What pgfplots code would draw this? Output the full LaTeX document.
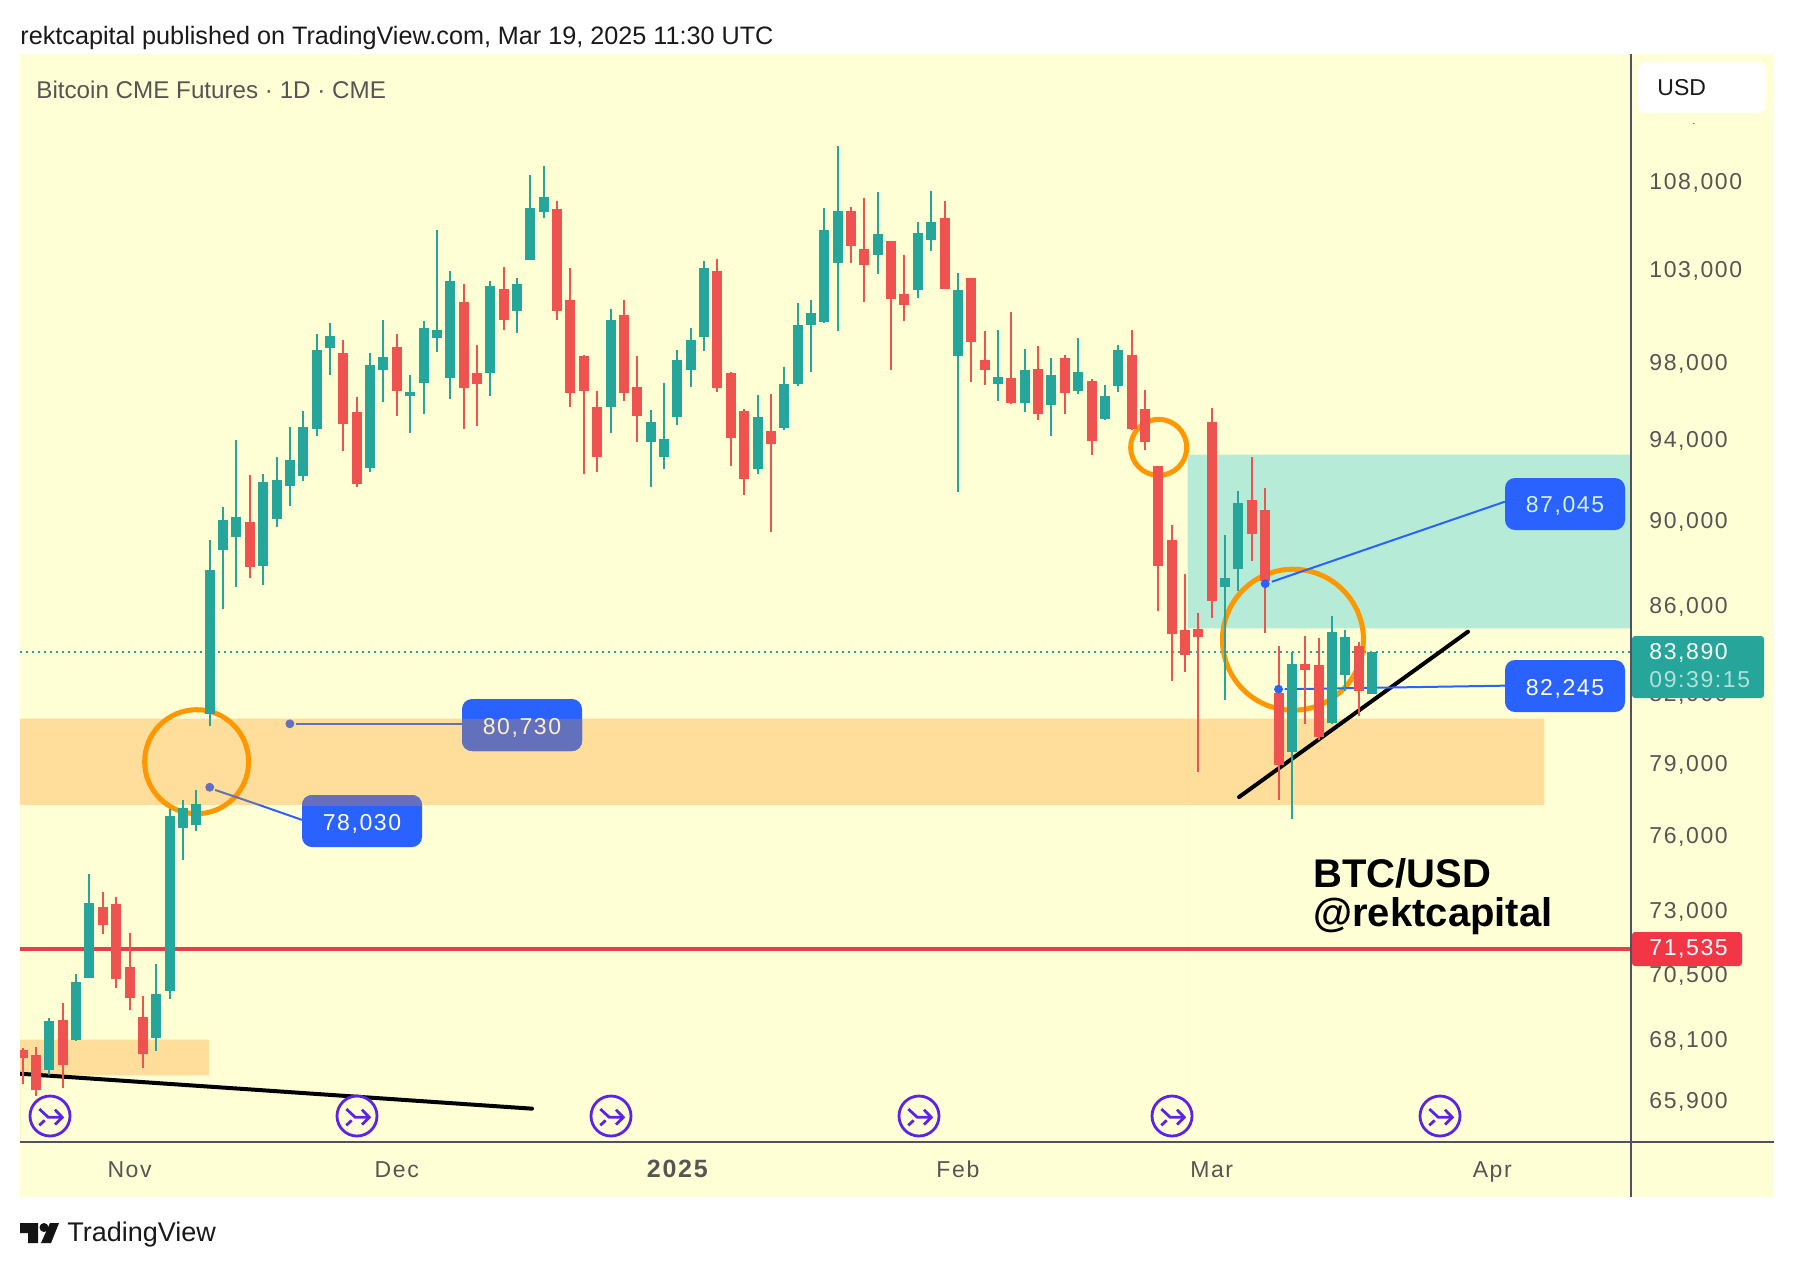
\documentclass[border=0pt]{standalone}
\usepackage{pgfplots}
\pgfplotsset{compat=1.18}
\usepackage{fontspec}
\setmainfont{Liberation Sans}
\newfontfamily\tickf[LetterSpace=7]{Liberation Sans}
\definecolor{bgy}{HTML}{FFFFD6}
\definecolor{zoneo}{HTML}{FEDE9A}
\definecolor{zonet}{HTML}{B6EBD8}
\definecolor{cg}{HTML}{26A69A}
\definecolor{cr}{HTML}{EF5350}
\definecolor{tvblue}{HTML}{2962FF}
\definecolor{mixblue}{HTML}{6370BC}
\definecolor{circ}{HTML}{FF9800}
\definecolor{redl}{HTML}{E5404A}
\definecolor{redtag}{HTML}{F23645}
\definecolor{axc}{HTML}{50535E}
\definecolor{txt}{HTML}{555555}
\definecolor{evc}{HTML}{5C22E8}
\newcommand\evt[1]{\begin{scope}[shift={(#1,1116)}]
\draw[evc,line width=1.4pt,fill=bgy] (0,0) circle (20);
\draw[evc,line width=1.4pt] (-10.7,-7)--(-1.7,1.3)--(11.7,1.3);
\draw[evc,line width=1.4pt] (5,-6.3)--(12.3,1.3)--(5,8.7);
\draw[evc,line width=1.4pt] (-10.7,9.3)--(-5.3,4.3);
\end{scope}}
\begin{document}
\begin{tikzpicture}[x=0.5pt,y=-0.5pt]
\path[use as bounding box] (0,0) rectangle (1794,1266);
\fill[white] (0,0) rectangle (1794,1266);
\fill[bgy] (20,54) rectangle (1774,1197);
\begin{axis}[
  at={(10pt,-570.75pt)},anchor=south west,scale only axis,
  width=805.35pt,height=543.75pt,
  ymode=log,xmin=-0.202,xmax=120.36,ymin=64503,ymax=115740,
  axis line style={draw=none},major tick length=0pt,minor tick length=0pt,
  yticklabel pos=right,xticklabel pos=bottom,
  ytick={65900,68100,70500,73000,76000,79000,82000,86000,90000,94000,98000,103000,108000,112000},
  yticklabels={{65,900},{68,100},{70,500},{73,000},{76,000},{79,000},{82,000},{86,000},{90,000},{94,000},{98,000},{103,000},{108,000},{112,000}},
  yticklabel style={anchor=west,inner sep=0pt,xshift=9.15pt,yshift=0.6pt,text height=8.2pt,text depth=0pt,font=\tickf\fontsize{11.5}{13}\selectfont,text=txt},
  xtick={8,28,49,70,89,110},
  xticklabels={Nov,Dec,{\fontsize{12.5}{13}\selectfont\bfseries 2025},Feb,Mar,Apr},
  xticklabel style={anchor=center,inner sep=0pt,yshift=-14.2pt,text height=8.2pt,text depth=0pt,font=\tickf\fontsize{11.5}{13}\selectfont,text=txt},
  clip=true,unbounded coords=jump,
]
% zones
\addplot[draw=none,fill=zoneo,forget plot] coordinates {(-0.202,80954)(113.9,80954)(113.9,77297)(-0.202,77297)} \closedcycle;
\addplot[draw=none,fill=zoneo,forget plot] coordinates {(-0.202,68125)(13.94,68125)(13.94,66830)(-0.202,66830)} \closedcycle;
\addplot[draw=none,fill=zonet,forget plot] coordinates {(87.2,93299)(120.36,93299)(120.36,84980)(87.2,84980)} \closedcycle;
% horizontal levels
\addplot[cg,line width=1pt,dash pattern=on 1pt off 2pt] coordinates {(-0.202,83890)(120.36,83890)};
\addplot[redl,line width=1.75pt] coordinates {(-0.202,71535)(120.36,71535)};
% circles
\draw[circ,line width=2.5pt] (axis cs:13.02,79117) circle[radius=26pt];
\draw[circ,line width=2.5pt] (axis cs:85.03,93665) circle[radius=14pt];
\draw[circ,line width=2.5pt] (axis cs:95.08,84465) circle[radius=35.25pt];
% trend lines
\addplot[black,line width=2pt,line cap=round] coordinates {(-0.202,66891)(38.12,65645)};
\addplot[black,line width=2pt,line cap=round] coordinates {(91.04,77629)(108.18,84829)};
% connectors
\addplot[mixblue,line width=1pt] coordinates {(20.45,80730)(32.88,80730)};
\addplot[mixblue,only marks,mark=*,mark size=2pt,mark options={draw=mixblue,fill=mixblue}] coordinates {(20,80730)};
\addplot[mixblue,line width=1pt] coordinates {(14.4,77923)(17.69,77297)};
\addplot[tvblue,line width=1pt] coordinates {(17.69,77297)(20.9,76676)};
\addplot[mixblue,only marks,mark=*,mark size=2pt,mark options={draw=mixblue,fill=mixblue}] coordinates {(14,78030)};
\addplot[tvblue,line width=1pt] coordinates {(93.5,87140)(110.94,90970)};
\addplot[tvblue,only marks,mark=*,mark size=2pt,mark options={draw=tvblue,fill=tvblue}] coordinates {(93,87045)};
\addplot[tvblue,line width=1pt] coordinates {(94.45,82245)(110.94,82403)};
\addplot[tvblue,only marks,mark=*,mark size=2pt,mark options={draw=tvblue,fill=tvblue}] coordinates {(94,82245)};
% green wicks
\addplot[cg,line width=1pt] coordinates {
(2,68924)(2,66855)(0,nan)(4,70575)(4,68063)(0,nan)(5,74482)(5,70434)(0,nan)(10,70966)(10,67724)(0,nan)(11,77118)(11,69642)(0,nan)
(12,77505)(12,75045)(0,nan)(13,77923)(13,76224)(0,nan)(14,89130)(14,80650)(0,nan)(15,90726)(15,85884)(0,nan)(16,94054)(16,86906)(0,nan)
(18,92350)(18,87000)(0,nan)(19,93198)(19,89756)(0,nan)(20,94714)(20,90775)(0,nan)(21,95532)(21,92004)(0,nan)(22,99571)(22,94255)(0,nan)
(23,100161)(23,97400)(0,nan)(26,98558)(26,92450)(0,nan)(27,100323)(27,95996)(0,nan)(29,97400)(29,94410)(0,nan)(30,100269)(30,95378)(0,nan)
(31,105297)(31,98611)(0,nan)(32,103002)(32,96151)(0,nan)(35,102449)(35,96306)(0,nan)(37,102614)(37,99625)(0,nan)(38,108458)(38,103612)(0,nan)
(39,108984)(39,105979)(0,nan)(44,100917)(44,94410)(0,nan)(47,95583)(47,91707)(0,nan)(48,96982)(48,92599)(0,nan)(49,98717)(49,94816)(0,nan)
(50,99893)(50,96773)(0,nan)(51,103557)(51,98664)(0,nan)(55,96358)(55,92350)(0,nan)(57,97819)(57,94561)(0,nan)(58,101244)(58,96826)(0,nan)
(59,101407)(59,97556)(0,nan)(60,106551)(60,100161)(0,nan)(61,110161)(61,99731)(0,nan)(64,107472)(64,102836)(0,nan)(67,105751)(67,101516)(0,nan)
(68,107529)(68,104115)(0,nan)(70,102891)(70,91461)(0,nan)(73,99785)(73,96047)(0,nan)(75,98770)(75,95480)(0,nan)(77,98294)(77,94255)(0,nan)
(79,99356)(79,96410)(0,nan)(81,96878)(81,95071)(0,nan)(82,98983)(82,96513)(0,nan)(90,89370)(90,81784)(0,nan)(91,91510)(91,86719)(0,nan)
(95,83922)(95,76717)(0,nan)(98,85562)(98,80736)(0,nan)(99,84920)(99,82181)(0,nan)(101,83890)(101,82049)
};
% green bodies
\addplot[cg,line width=5pt] coordinates {
(2,68824)(2,67035)(0,nan)(4,70282)(4,68125)(0,nan)(5,73331)(5,70434)(0,nan)(10,69830)(10,68198)(0,nan)(11,76840)(11,69942)(0,nan)
(12,77172)(12,76347)(0,nan)(13,77339)(13,76470)(0,nan)(14,87704)(14,81172)(0,nan)(15,90094)(15,88652)(0,nan)(16,90240)(16,89274)(0,nan)
(18,91954)(18,87893)(0,nan)(19,92053)(19,90142)(0,nan)(20,93048)(20,91756)(0,nan)(21,94714)(21,92251)(0,nan)(22,98717)(22,94612)(0,nan)
(23,99463)(23,98823)(0,nan)(26,97925)(26,92649)(0,nan)(27,98347)(27,97661)(0,nan)(29,96513)(29,96306)(0,nan)(30,99893)(30,96982)(0,nan)
(31,99785)(31,99356)(0,nan)(32,102449)(32,97242)(0,nan)(35,102174)(35,97504)(0,nan)(37,102284)(37,100809)(0,nan)(38,106551)(38,103612)(0,nan)
(39,107183)(39,106322)(0,nan)(44,100323)(44,95738)(0,nan)(47,94969)(47,93953)(0,nan)(48,94105)(48,93198)(0,nan)(49,98188)(49,95224)(0,nan)
(50,99249)(50,97661)(0,nan)(51,103168)(51,99410)(0,nan)(55,95224)(55,92599)(0,nan)(57,96930)(57,94663)(0,nan)(58,100054)(58,96930)(0,nan)
(59,100701)(59,100054)(0,nan)(60,105297)(60,100215)(0,nan)(61,106379)(61,103446)(0,nan)(64,105071)(64,103891)(0,nan)(67,105127)(67,101954)(0,nan)
(68,105751)(68,104733)(0,nan)(70,101954)(70,98399)(0,nan)(73,97295)(73,96930)(0,nan)(75,97661)(75,95944)(0,nan)(77,97400)(77,95841)(0,nan)
(79,97556)(79,96565)(0,nan)(81,96306)(81,95122)(0,nan)(82,98717)(82,96826)(0,nan)(90,87328)(90,86906)(0,nan)(91,90921)(91,87751)(0,nan)
(95,83383)(95,79530)(0,nan)(98,84829)(98,80780)(0,nan)(99,84601)(99,82891)(0,nan)(101,83890)(101,82049)
};
% red wicks
\addplot[cr,line width=1pt] coordinates {
(0,67822)(0,66533)(0,nan)(1,67858)(1,66080)(0,nan)(3,69482)(3,66379)(0,nan)(6,73765)(6,72118)(0,nan)(7,73567)(7,70056)(0,nan)
(8,72157)(8,69232)(0,nan)(9,69755)(9,67107)(0,nan)(17,92301)(17,87328)(0,nan)(24,99249)(24,93500)(0,nan)(25,96255)(25,91707)(0,nan)
(28,99571)(28,95276)(0,nan)(33,102284)(33,94612)(0,nan)(34,98983)(34,94765)(0,nan)(36,103223)(36,99785)(0,nan)(40,106953)(40,100323)(0,nan)
(41,103168)(41,95738)(0,nan)(42,98452)(42,92350)(0,nan)(43,96565)(43,92450)(0,nan)(45,101407)(45,96047)(0,nan)(46,98399)(46,93953)(0,nan)
(52,103668)(52,96513)(0,nan)(53,97556)(53,92748)(0,nan)(54,95635)(54,91313)(0,nan)(56,96410)(56,89515)(0,nan)(62,106609)(62,103446)(0,nan)
(63,107125)(63,101298)(0,nan)(65,104677)(65,97661)(0,nan)(66,103891)(66,100269)(0,nan)(69,106953)(69,102009)(0,nan)(71,102614)(71,97034)(0,nan)
(72,99731)(72,96878)(0,nan)(74,100755)(74,95893)(0,nan)(76,98930)(76,95071)(0,nan)(78,98452)(78,95378)(0,nan)(80,97190)(80,93299)(0,nan)
(83,99785)(83,94561)(0,nan)(84,96617)(84,93550)(0,nan)(85,92748)(85,85792)(0,nan)(86,89852)(86,82625)(0,nan)(87,87516)(87,83025)(0,nan)
(88,85700)(88,78681)(0,nan)(89,95686)(89,85470)(0,nan)(92,93198)(92,88130)(0,nan)(93,91657)(93,84783)(0,nan)(94,84193)(94,77505)(0,nan)
(96,84647)(96,80736)(0,nan)(97,84556)(97,80045)(0,nan)(100,84374)(100,81084)
};
% red bodies
\addplot[cr,line width=5pt] coordinates {
(0,67760)(0,67444)(0,nan)(1,67578)(1,66318)(0,nan)(3,68861)(3,67216)(0,nan)(6,73172)(6,72468)(0,nan)(7,73291)(7,70396)(0,nan)
(8,70851)(8,69680)(0,nan)(9,68972)(9,67615)(0,nan)(17,89997)(17,87846)(0,nan)(24,98558)(24,94867)(0,nan)(25,95480)(25,91855)(0,nan)
(28,98877)(28,96565)(0,nan)(33,101298)(33,96721)(0,nan)(34,97504)(34,96930)(0,nan)(36,102009)(36,100323)(0,nan)(40,106493)(40,100809)(0,nan)
(41,101407)(41,96461)(0,nan)(42,98399)(42,96565)(0,nan)(43,95738)(43,93198)(0,nan)(45,100593)(45,96461)(0,nan)(46,96773)(46,95276)(0,nan)
(52,103002)(52,96721)(0,nan)(53,97504)(53,94155)(0,nan)(54,95532)(54,92103)(0,nan)(56,94510)(56,93852)(0,nan)(62,106379)(62,104395)(0,nan)
(63,104227)(63,103334)(0,nan)(65,104677)(65,101462)(0,nan)(66,101734)(66,101135)(0,nan)(69,105979)(69,102009)(0,nan)(71,102614)(71,99142)(0,nan)
(72,98188)(72,97661)(0,nan)(74,97242)(74,95944)(0,nan)(76,97714)(76,95378)(0,nan)(78,98294)(78,96461)(0,nan)(80,97086)(80,94004)(0,nan)
(83,98452)(83,94612)(0,nan)(84,95635)(84,93953)(0,nan)(85,92748)(85,87893)(0,nan)(86,89130)(86,84738)(0,nan)(87,84920)(87,83787)(0,nan)
(88,84966)(88,84601)(0,nan)(89,94969)(89,86254)(0,nan)(92,91068)(92,89418)(0,nan)(93,90580)(93,87187)(0,nan)(94,82092)(94,78977)(0,nan)
(96,83383)(96,83114)(0,nan)(97,83338)(97,80174)(0,nan)(100,84193)(100,82181)
};
\end{axis}
% frame lines
\draw[axc,line width=1pt] (1630.7,54)--(1630.7,1197);
\draw[axc,line width=1pt] (20,1142)--(1774,1142);
% event icons
\evt{50}\evt{357}\evt{611}\evt{919}\evt{1172}\evt{1440}
% USD box
\fill[bgy] (1634,110) rectangle (1770,122.5);
\fill[white,rounded corners=4pt] (1638,62) rectangle (1766,113);
\node[anchor=west,inner sep=0pt,font=\fontsize{11.5}{13}\selectfont,text=black!90] at (1657,88) {USD};
% right tags
\fill[cg,rounded corners=1.5pt] (1632,636) rectangle (1764,698);
\node[anchor=west,inner sep=0pt,font=\tickf\fontsize{11.5}{13}\selectfont,text=white] at (1649,652.5) {83,890};
\node[anchor=west,inner sep=0pt,font=\tickf\fontsize{11.5}{13}\selectfont,text=cg!35!white] at (1649,680) {09:39:15};
\fill[redtag,rounded corners=1.5pt] (1632,932) rectangle (1742,966);
\node[anchor=west,inner sep=0pt,font=\tickf\fontsize{11.5}{13}\selectfont,text=white] at (1649,948.5) {71,535};
% price labels
\fill[tvblue,rounded corners=5pt] (1505,478) rectangle (1625,530);
\node[inner sep=0pt,font=\tickf\fontsize{11.5}{13}\selectfont,text=zonet!60!white] at (1565,506) {87,045};
\fill[tvblue,rounded corners=5pt] (1505,660) rectangle (1625,712);
\node[inner sep=0pt,font=\tickf\fontsize{11.5}{13}\selectfont,text=white] at (1565,688.5) {82,245};
\fill[tvblue,rounded corners=5pt] (462,699) rectangle (582,751);
\begin{scope}
\clip (440,719) rectangle (600,805);
\fill[mixblue,rounded corners=5pt] (462,699) rectangle (582,751);
\end{scope}
\node[inner sep=0pt,font=\tickf\fontsize{11.5}{13}\selectfont,text=zoneo!50!white] at (522,727.5) {80,730};
\fill[tvblue,rounded corners=5pt] (302,795) rectangle (422,847);
\begin{scope}
\clip (290,719) rectangle (440,805);
\fill[mixblue,rounded corners=5pt] (302,795) rectangle (422,847);
\end{scope}
\node[inner sep=0pt,font=\tickf\fontsize{11.5}{13}\selectfont,text=white] at (362,823.5) {78,030};
% titles
\node[anchor=west,inner sep=0pt,font=\fontsize{12.6}{14}\selectfont,text=black!90] at (20,38) {rektcapital published on TradingView.com, Mar 19, 2025 11:30 UTC};
\node[anchor=west,inner sep=0pt,font=\fontsize{12.1}{14}\selectfont,text=txt] at (36,90) {Bitcoin CME Futures · 1D · CME};
\node[anchor=west,inner sep=0pt,font=\fontsize{20}{22}\selectfont\bfseries,text=black] at (1313,873) {BTC/USD};
\node[anchor=west,inner sep=0pt,font=\fontsize{20}{22}\selectfont\bfseries,text=black] at (1313,916.5) {@rektcapital};
% footer logo
\fill[black!92] (20,1223)--(38,1223)--(38,1243)--(28,1243)--(28,1233)--(20,1233)--cycle;
\fill[black!92] (44,1227.5) circle (4.5);
\fill[black!92] (50,1223)--(59,1223)--(51,1243)--(41,1243)--cycle;
\node[anchor=west,inner sep=0pt,font=\fontsize{13.5}{15}\selectfont,text=black!90] at (67,1234) {TradingView};
\end{tikzpicture}
\end{document}
